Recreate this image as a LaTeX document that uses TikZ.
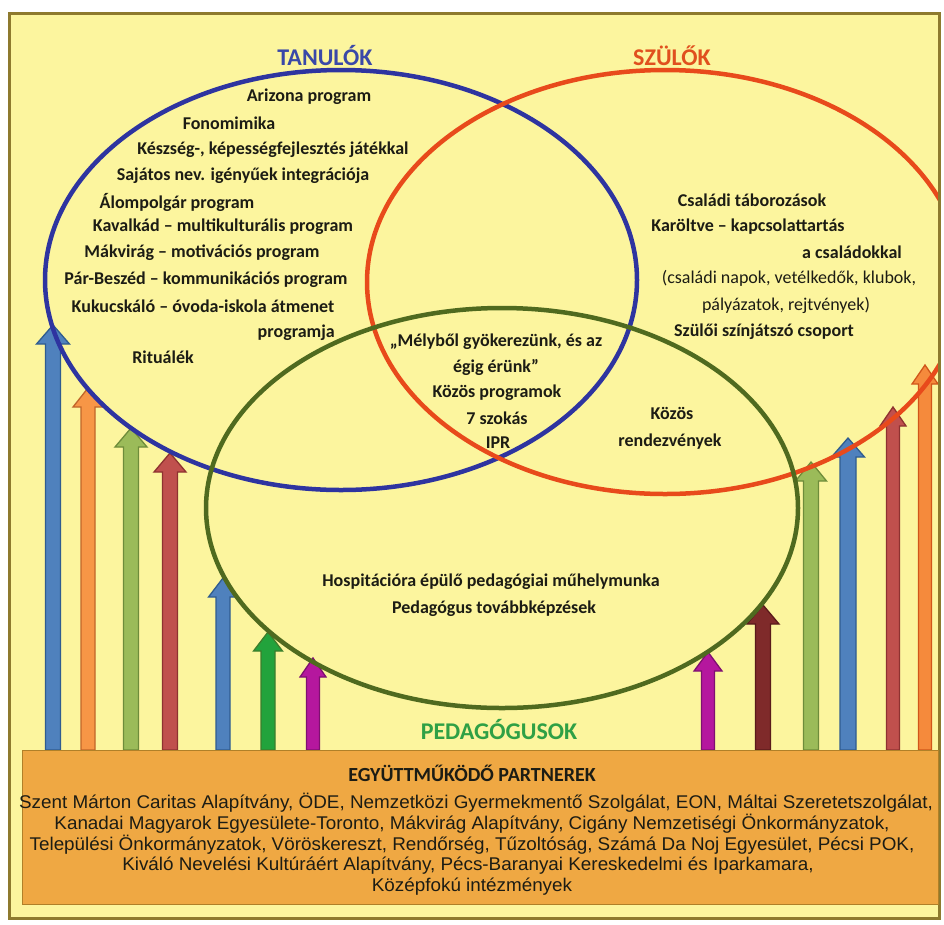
\documentclass[tikz,border=0pt]{standalone}
\usepackage{fontspec}
\setmainfont{Carlito}
\newfontfamily\partnerfont[FakeStretch=1.025]{Liberation Sans}
\definecolor{bgyellow}{HTML}{FCF59E}
\definecolor{framec}{HTML}{8E7A2E}
\definecolor{boxfill}{HTML}{EFA843}
\definecolor{boxline}{HTML}{B08028}
\definecolor{txt}{HTML}{1C1C14}
\definecolor{elblue}{HTML}{2E34A0}
\definecolor{elred}{HTML}{E84A1B}
\definecolor{elgreen}{HTML}{4F6A1F}
\definecolor{tblue}{HTML}{3A48A8}
\definecolor{tred}{HTML}{E0501E}
\definecolor{tgreen}{HTML}{2FA045}
\definecolor{aBlueF}{HTML}{4F81BD}\definecolor{aBlueD}{HTML}{2F5C8F}
\definecolor{aOrF}{HTML}{F79646}\definecolor{aOrD}{HTML}{C0652A}
\definecolor{aGrF}{HTML}{9BBB59}\definecolor{aGrD}{HTML}{6E8C3A}
\definecolor{aRedF}{HTML}{C0504D}\definecolor{aRedD}{HTML}{8E3230}
\definecolor{aG2F}{HTML}{22A33C}\definecolor{aG2D}{HTML}{3C7E2C}
\definecolor{aMaF}{HTML}{B5179E}\definecolor{aMaD}{HTML}{7E1070}
\definecolor{aDrF}{HTML}{7F2A2A}\definecolor{aDrD}{HTML}{5A1A1A}
\definecolor{aOr2F}{HTML}{F58A3C}\definecolor{aOr2D}{HTML}{D0561A}
\newcommand\uparr[6]{\filldraw[fill=#5,draw=#6,line width=1.3pt,line join=miter]
  ({#1-#3},750) -- ({#1-#3},{#2+19}) -- ({#1-#4},{#2+19}) -- (#1,#2) --
  ({#1+#4},{#2+19}) -- ({#1+#3},{#2+19}) -- ({#1+#3},750) -- cycle;}
\begin{document}
\begin{tikzpicture}[x=1pt,y=-1pt,
  every node/.style={inner sep=0pt},
  body/.style={font=\fontsize{18}{20}\selectfont\bfseries, text=txt},
  bodyreg/.style={font=\fontsize{18}{20}\selectfont, text=txt},
  title/.style={font=\fontsize{24}{26}\selectfont\bfseries},
  partner/.style={font=\partnerfont\fontsize{18.4}{20}\selectfont, text=txt},
  ell/.style={line width=4.5pt}]
\useasboundingbox (0,0) rectangle (944,924);
\fill[white] (0,0) rectangle (944,924);
\fill[bgyellow] (9,13) rectangle (939,918);
% arrows
\uparr{53}{325}{7.5}{16.5}{aBlueF}{aBlueD}
\uparr{88}{388}{7}{15}{aOrF}{aOrD}
\uparr{131}{428}{7.5}{16}{aGrF}{aGrD}
\uparr{170}{453}{7.5}{16}{aRedF}{aRedD}
\uparr{223}{578}{7}{14.5}{aBlueF}{aBlueD}
\uparr{268}{632}{7}{14.5}{aG2F}{aG2D}
\uparr{313}{658}{6.5}{13}{aMaF}{aMaD}
\uparr{708}{652}{6.5}{14}{aMaF}{aMaD}
\uparr{763}{605}{7.5}{16}{aDrF}{aDrD}
\uparr{811}{462}{7.5}{15.5}{aGrF}{aGrD}
\uparr{848}{438}{8}{16.5}{aBlueF}{aBlueD}
\uparr{893}{407}{6.5}{13}{aRedF}{aRedD}
\uparr{925}{365}{6.5}{13}{aOr2F}{aOr2D}
% ellipses
\begin{scope}
\clip (9,13) rectangle (939,918);
\draw[ell, elblue] (341,280) ellipse [x radius=296pt, y radius=210pt];
\draw[ell, elred] (665,282) ellipse [x radius=298pt, y radius=212pt];
\draw[ell, elgreen] (502,508) ellipse [x radius=296pt, y radius=200pt];
\end{scope}
% frame
\draw[framec, line width=3pt] (9,13) rectangle (939,918);
% titles
\node[title, text=tblue] (tan) at (325,56) {TANULÓK};
\node[title, text=tred] (szu) at (672,56) {SZÜLŐK};
\node[title, text=tgreen] (ped) at (499,729) {PEDAGÓGUSOK};
% tanulok
\node[body] (t1) at (309,97) {Arizona program};
\node[body] (t2) at (229,123) {Fonomimika};
\node[body] (t3) at (273,150) {Készség-, képességfejlesztés játékkal};
\node[body] (t4) at (243,176) {Sajátos nev. igényűek integrációja};
\node[body] (t5) at (177,202) {Álompolgár program};
\node[body] (t6) at (223,227) {Kavalkád – multikulturális program};
\node[body] (t7) at (202,253) {Mákvirág – motivációs program};
\node[body] (t8) at (206,280) {Pár-Beszéd – kommunikációs program};
\node[body] (t9) at (203,306) {Kukucskáló – óvoda-iskola átmenet};
\node[body, anchor=east] (t10) at (335,333) {programja};
\node[body] (t11) at (163,357) {Rituálék};
% szulok
\node[body] (s1) at (752,200) {Családi táborozások};
\node[body] (s2) at (748,227) {Karöltve – kapcsolattartás};
\node[body] (s3) at (852,252) {a családokkal};
\node[bodyreg] (s4) at (789,278) {(családi napok, vetélkedők, klubok,};
\node[bodyreg] (s5) at (786,305) {pályázatok, rejtvények)};
\node[body] (s6) at (764,332) {Szülői színjátszó csoport};
% center
\node[body] (c1) at (496,342) {„Mélyből gyökerezünk, és az};
\node[body] (c2) at (496,367) {égig érünk”};
\node[body] (c3) at (497,393) {Közös programok};
\node[body] (c4) at (497,418) {7 szokás};
\node[body] (c5) at (498,443) {IPR};
\node[body] (k1) at (672,413) {Közös};
\node[body] (k2) at (670,442) {rendezvények};
\node[body] (h1) at (491,582) {Hospitációra épülő pedagógiai műhelymunka};
\node[body] (h2) at (494,609) {Pedagógus továbbképzések};
% partner box
\filldraw[fill=boxfill, draw=boxline, line width=1pt] (22,750) rectangle (938,904);
\node[body, font=\fontsize{20}{22}\selectfont\bfseries] (pt) at (472,773) {EGYÜTTMŰKÖDŐ PARTNEREK};
\node[partner] (p1) at (476,803) {Szent Márton Caritas Alapítvány, ÖDE, Nemzetközi Gyermekmentő Szolgálat, EON, Máltai Szeretetszolgálat,};
\node[partner] (p2) at (472,824) {Kanadai Magyarok Egyesülete-Toronto, Mákvirág Alapítvány, Cigány Nemzetiségi Önkormányzatok,};
\node[partner] (p3) at (472,845) {Települési Önkormányzatok, Vöröskereszt, Rendőrség, Tűzoltóság, Számá Da Noj Egyesület, Pécsi POK,};
\node[partner] (p4) at (468,866) {Kiváló Nevelési Kultúráért Alapítvány, Pécs-Baranyai Kereskedelmi és Iparkamara,};
\node[partner] (p5) at (472,887) {Középfokú intézmények};
\end{tikzpicture}
\end{document}
